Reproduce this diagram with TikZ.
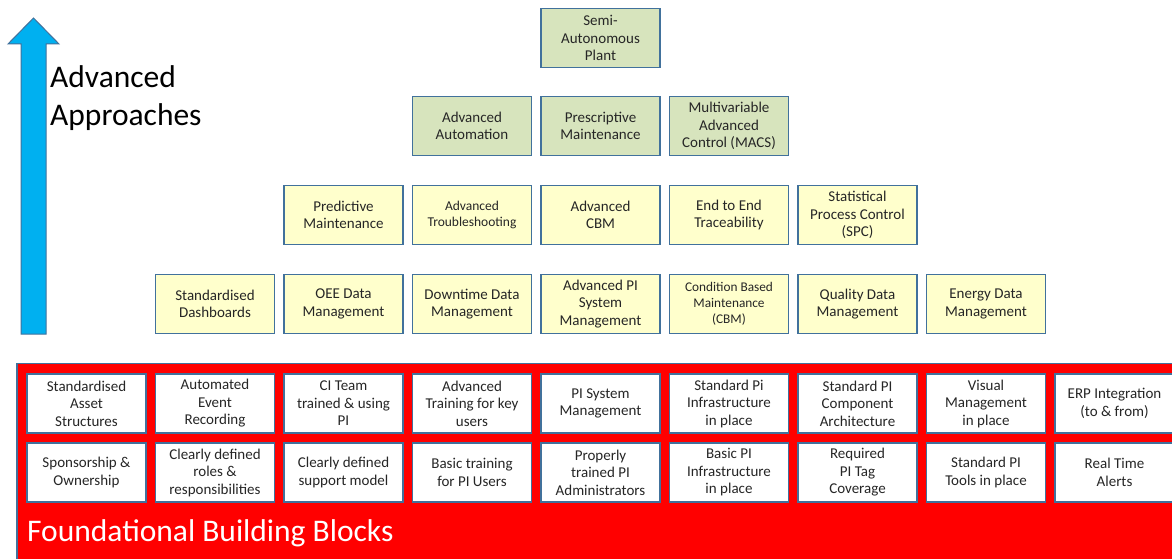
\documentclass[tikz,border=0pt]{standalone}
\usepackage{fontspec}
\setmainfont{Carlito}
\definecolor{bord}{HTML}{41719C}
\definecolor{greenfill}{HTML}{D7E4BD}
\definecolor{yellowfill}{HTML}{FFFFCC}
\definecolor{arrowblue}{HTML}{00B0F0}
\definecolor{txt}{HTML}{262626}
\tikzset{
  box/.style={draw=bord, line width=1.3pt, minimum width=119pt, minimum height=59pt,
    inner sep=1pt, align=center, text=txt, font=\fontsize{15}{17.5}\selectfont},
  greenbox/.style={box, fill=greenfill},
  yellowbox/.style={box, fill=yellowfill},
  whitebox/.style={box, fill=white},
  smalltxt/.style={font=\fontsize{13.5}{15.5}\selectfont},
}
\begin{document}
\begin{tikzpicture}[x=1pt,y=-1pt]
\useasboundingbox (0,0) rectangle (1172,559);
\fill[white] (0,0) rectangle (1172,559);
% arrow
\draw[fill=arrowblue, draw=bord, line width=1pt] (21,334) -- (21,44) -- (8,44) -- (33.5,18) -- (59,44) -- (46,44) -- (46,334) -- cycle;
\node[anchor=base west, inner sep=0, align=left, text=black, font=\fontsize{31.5}{38}\selectfont] (adv) at (50,125) {Advanced\\Approaches};
% red foundation
\begin{scope}
\clip (0,0) rectangle (1172,559);
\draw[fill=red, draw=bord, line width=1.5pt] (17,363.5) rectangle (1190,580);
\end{scope}
\node[anchor=base west, inner sep=0, text=white, font=\fontsize{31.5}{36}\selectfont] (fbb) at (27,541) {Foundational Building Blocks};
% top
\node[greenbox] (sap) at (600.5,38) {Semi-\\Autonomous\\Plant};
% row 2
\node[greenbox] (aa) at (472,126) {Advanced\\Automation};
\node[greenbox] (pm) at (600.5,126) {Prescriptive\\Maintenance};
\node[greenbox] (macs) at (729,126) {Multivariable\\Advanced\\Control (MACS)};
% row 3
\node[yellowbox] (pdm) at (343.5,215) {Predictive\\Maintenance};
\node[yellowbox, smalltxt] (at) at (472,215) {Advanced\\Troubleshooting};
\node[yellowbox] (acbm) at (600.5,215) {Advanced\\CBM};
\node[yellowbox] (e2e) at (729,215) {End to End\\Traceability};
\node[yellowbox] (spc) at (857.5,215) {Statistical\\Process Control\\(SPC)};
% row 4
\node[yellowbox] (sd) at (215,304) {Standardised\\Dashboards};
\node[yellowbox] (oee) at (343.5,304) {OEE Data\\Management};
\node[yellowbox] (dtm) at (472,304) {Downtime Data\\Management};
\node[yellowbox] (apsm) at (600.5,304) {Advanced PI\\System\\Management};
\node[yellowbox, font=\fontsize{13.3}{16}\selectfont] (cbm) at (729,304) {Condition Based\\Maintenance\\(CBM)};
\node[yellowbox] (qdm) at (857.5,304) {Quality Data\\Management};
\node[yellowbox] (edm) at (986,304) {Energy Data\\Management};
% foundation row 1
\node[whitebox] (sas) at (86.5,403.5) {Standardised\\Asset\\Structures};
\node[whitebox] (aer) at (215,403.5) {Automated\\Event\\Recording};
\node[whitebox] (ci) at (343.5,403.5) {CI Team\\trained \& using\\PI};
\node[whitebox] (atk) at (472,403.5) {Advanced\\Training for key\\users};
\node[whitebox] (psm) at (600.5,403.5) {PI System\\Management};
\node[whitebox] (spi) at (729,403.5) {Standard Pi\\Infrastructure\\in place};
\node[whitebox] (spca) at (857.5,403.5) {Standard PI\\Component\\Architecture};
\node[whitebox] (vm) at (986,403.5) {Visual\\Management\\in place};
\node[whitebox] (erp) at (1114.5,403.5) {ERP Integration\\(to \& from)};
% foundation row 2
\node[whitebox] (so) at (86.5,472.5) {Sponsorship \&\\Ownership};
\node[whitebox] (cdr) at (215,472.5) {Clearly defined\\roles \&\\responsibilities};
\node[whitebox] (cds) at (343.5,472.5) {Clearly defined\\support model};
\node[whitebox] (bt) at (472,472.5) {Basic training\\for PI Users};
\node[whitebox] (pta) at (600.5,472.5) {Properly\\trained PI\\Administrators};
\node[whitebox] (bpi) at (729,472.5) {Basic PI\\Infrastructure\\in place};
\node[whitebox] (rptc) at (857.5,472.5) {Required\\PI Tag\\Coverage};
\node[whitebox] (stp) at (986,472.5) {Standard PI\\Tools in place};
\node[whitebox] (rta) at (1114.5,472.5) {Real Time\\Alerts};
\end{tikzpicture}
\end{document}
